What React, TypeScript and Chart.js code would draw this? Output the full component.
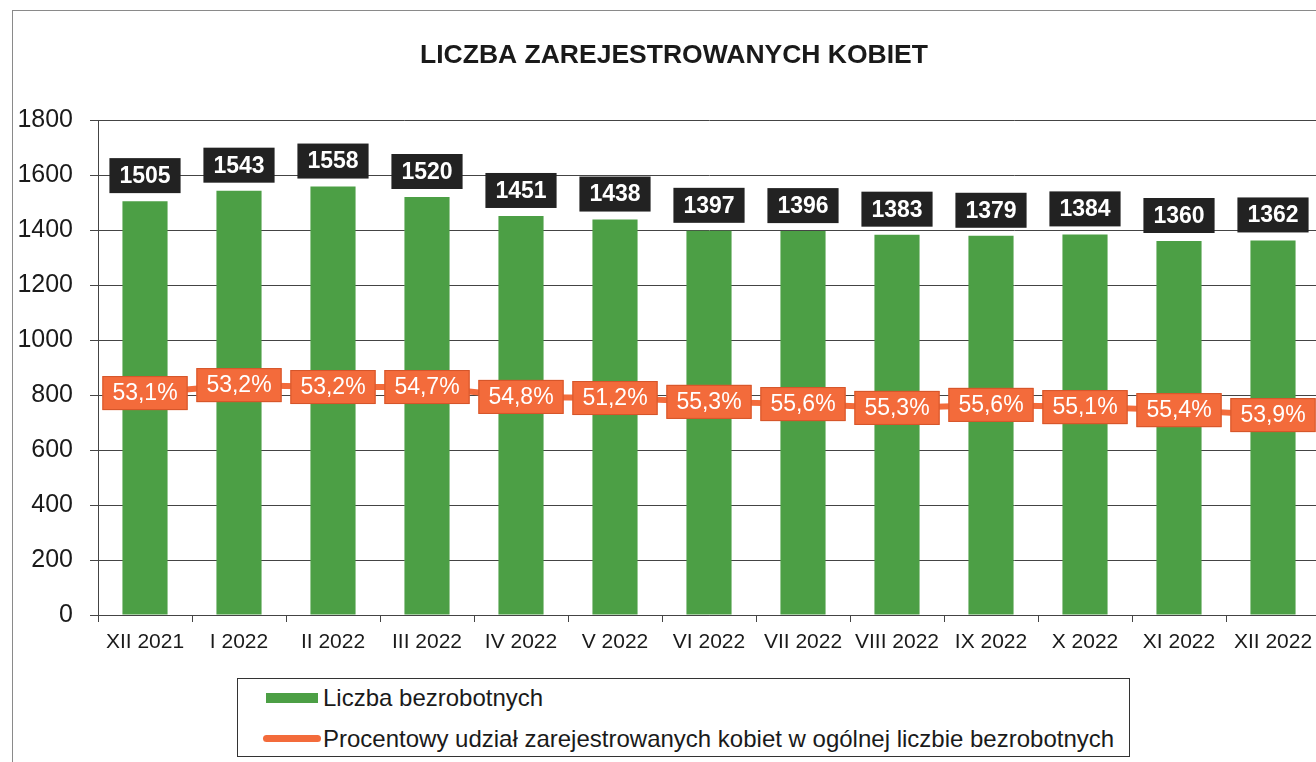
import React, { useEffect, useRef } from "react";
import { Chart, registerables } from "chart.js";

Chart.register(...registerables);

const categories = [
  "XII 2021", "I 2022", "II 2022", "III 2022", "IV 2022", "V 2022", "VI 2022",
  "VII 2022", "VIII 2022", "IX 2022", "X 2022", "XI 2022", "XII 2022",
];
const unemployedWomen = [1505, 1543, 1558, 1520, 1451, 1438, 1397, 1396, 1383, 1379, 1384, 1360, 1362];
const shareLabels = [
  "53,1%", "53,2%", "53,2%", "54,7%", "54,8%", "51,2%", "55,3%",
  "55,6%", "55,3%", "55,6%", "55,1%", "55,4%", "53,9%",
];
// level at which the share line is drawn in the original (left-axis units)
const shareLineLevel = [807, 836, 829, 829, 793, 789, 775, 767, 753, 764, 756, 745, 727];
const yMin = 0;
const yMax = 1800;
const yStep = 200;

const TITLE = "LICZBA ZAREJESTROWANYCH KOBIET";
const LEGEND_BARS = "Liczba bezrobotnych";
const LEGEND_LINE = "Procentowy udział zarejestrowanych kobiet w ogólnej liczbie bezrobotnych";

const FONT = '"Liberation Sans", Arial, Helvetica, sans-serif';
const GREEN = "#4c9f45";
const ORANGE = "#f36b3b";

const boxLabelPlugin = {
  id: "boxLabels",
  afterDatasetsDraw(chart: any) {
    const ctx = chart.ctx;
    ctx.save();
    // bar value labels
    const barMeta = chart.getDatasetMeta(0);
    ctx.font = `bold 23px ${FONT}`;
    ctx.textAlign = "center";
    ctx.textBaseline = "middle";
    barMeta.data.forEach((el: any, i: number) => {
      const text = String(unemployedWomen[i]);
      const w = ctx.measureText(text).width + 20;
      const h = 35;
      const bottom = el.y - 8;
      ctx.fillStyle = "#222222";
      ctx.fillRect(el.x - w / 2, bottom - h, w, h);
      ctx.fillStyle = "#ffffff";
      ctx.fillText(text, el.x, bottom - h / 2 + 1);
    });
    // share labels
    const lineMeta = chart.getDatasetMeta(1);
    ctx.font = `23px ${FONT}`;
    lineMeta.data.forEach((pt: any, i: number) => {
      const text = shareLabels[i];
      const w = ctx.measureText(text).width + 20;
      const h = 34;
      ctx.fillStyle = ORANGE;
      ctx.fillRect(pt.x - w / 2, pt.y - h / 2, w, h);
      ctx.strokeStyle = "#d4552a";
      ctx.lineWidth = 1;
      ctx.strokeRect(pt.x - w / 2 + 0.5, pt.y - h / 2 + 0.5, w - 1, h - 1);
      ctx.fillStyle = "#ffffff";
      ctx.fillText(text, pt.x, pt.y + 1);
    });
    ctx.restore();
  },
  afterDraw(chart: any) {
    const ctx = chart.ctx;
    ctx.save();
    ctx.font = `bold 26.5px ${FONT}`;
    ctx.fillStyle = "#1a1a1a";
    ctx.textAlign = "center";
    ctx.textBaseline = "middle";
    ctx.fillText(TITLE, 674, 56);
    ctx.restore();
  },
};

export default function App() {
  const canvasRef = useRef<HTMLCanvasElement | null>(null);

  useEffect(() => {
    const canvas = canvasRef.current;
    if (!canvas) return;
    const chart = new Chart(canvas, {
      type: "bar",
      data: {
        labels: categories,
        datasets: [
          {
            type: "bar",
            label: LEGEND_BARS,
            data: unemployedWomen,
            backgroundColor: GREEN,
            borderWidth: 0,
            categoryPercentage: 0.48,
            barPercentage: 1,
            order: 2,
          },
          {
            type: "line",
            label: LEGEND_LINE,
            data: shareLineLevel,
            borderColor: ORANGE,
            borderWidth: 6,
            pointRadius: 0,
            tension: 0,
            order: 1,
          } as any,
        ],
      },
      options: {
        animation: false,
        responsive: false,
        maintainAspectRatio: false,
        layout: { padding: { top: 120, right: 20, left: 0, bottom: 0 } },
        plugins: {
          legend: { display: false },
          title: { display: false },
          tooltip: { enabled: false },
        },
        scales: {
          x: {
            offset: true,
            grid: {
              offset: true,
              drawOnChartArea: false,
              drawTicks: true,
              tickLength: 7,
              color: "#444444",
            },
            border: { display: true, color: "#444444" },
            ticks: {
              color: "#1a1a1a",
              font: { family: FONT, size: 21 },
              padding: 8,
              maxRotation: 0,
              autoSkip: false,
            },
            afterFit: (scale: any) => {
              scale.height = 147;
            },
          },
          y: {
            min: yMin,
            max: yMax,
            ticks: {
              stepSize: yStep,
              color: "#1a1a1a",
              font: { family: FONT, size: 25 },
              padding: 17,
              callback: (v: any) => String(v),
            },
            grid: {
              color: "#444444",
              lineWidth: 1,
              drawTicks: true,
              tickLength: 8,
            },
            border: { display: true, color: "#444444" },
            afterFit: (scale: any) => {
              scale.width = 98;
            },
          },
        },
      },
      plugins: [boxLabelPlugin],
    });
    return () => chart.destroy();
  }, []);

  return (
    <div
      style={{
        position: "fixed",
        left: 0,
        top: 0,
        width: 1316,
        height: 762,
        overflow: "hidden",
        background: "#ffffff",
        fontFamily: FONT,
      }}
    >
      <div
        style={{
          position: "absolute",
          left: 12,
          top: 10,
          width: 1400,
          height: 800,
          border: "1px solid #8a8a8a",
        }}
      />
      <canvas
        ref={canvasRef}
        width={1340}
        height={762}
        style={{ position: "absolute", left: 0, top: 0, width: 1340, height: 762 }}
      />
      <div
        style={{
          position: "absolute",
          left: 237,
          top: 678,
          width: 893,
          height: 79,
          border: "1px solid #333333",
          boxSizing: "border-box",
          fontSize: 24,
          color: "#1a1a1a",
          background: "#ffffff",
        }}
      >
        <div
          style={{
            position: "absolute",
            left: 28,
            top: 14,
            width: 52,
            height: 10,
            background: GREEN,
          }}
        />
        <div style={{ position: "absolute", left: 85, top: 5, lineHeight: "28px", whiteSpace: "nowrap" }}>
          {LEGEND_BARS}
        </div>
        <div
          style={{
            position: "absolute",
            left: 25,
            top: 56,
            width: 58,
            height: 7,
            borderRadius: 4,
            background: ORANGE,
          }}
        />
        <div style={{ position: "absolute", left: 85, top: 46, lineHeight: "28px", whiteSpace: "nowrap" }}>
          {LEGEND_LINE}
        </div>
      </div>
    </div>
  );
}
